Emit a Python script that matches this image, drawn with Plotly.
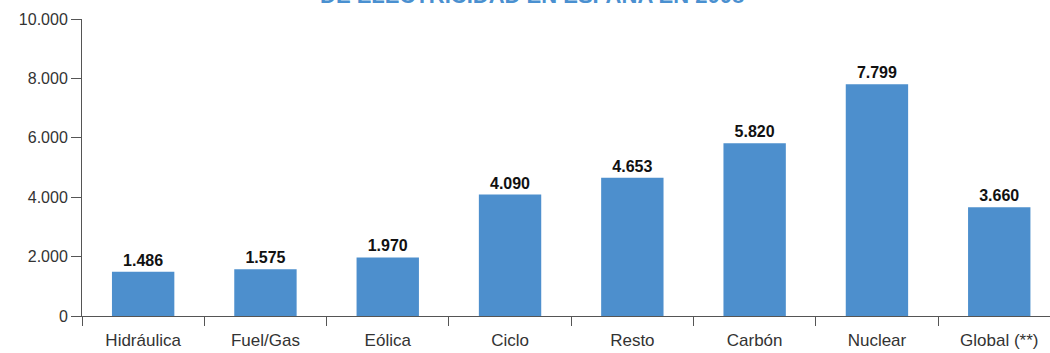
import plotly.graph_objects as go

categories = ["Hidráulica", "Fuel/Gas", "Eólica", "Ciclo", "Resto", "Carbón", "Nuclear", "Global (**)"]
values = [1486, 1575, 1970, 4090, 4653, 5820, 7799, 3660]
value_labels = ["1.486", "1.575", "1.970", "4.090", "4.653", "5.820", "7.799", "3.660"]
y_ticks = [0, 2000, 4000, 6000, 8000, 10000]
y_tick_labels = ["0", "2.000", "4.000", "6.000", "8.000", "10.000"]
title_text = "DE ELECTRICIDAD EN ESPAÑA EN 2008"

fig = go.Figure()
fig.add_trace(go.Bar(
    x=categories, y=values,
    marker=dict(color="#4d8fcd", line=dict(width=0)),
    width=0.51,
    text=value_labels, textposition="outside",
    textfont=dict(family="Liberation Sans, Arial, sans-serif", size=16, color="#111111"),
    texttemplate="<b>%{text}</b>",
    cliponaxis=False,
))

fig.add_annotation(
    text="<b>" + title_text + "</b>", xref="paper", yref="paper",
    x=0.465, y=1.03, xanchor="center", yanchor="bottom", showarrow=False,
    font=dict(family="Liberation Sans, Arial, sans-serif", size=22, color="#4a90d0"),
)

fig.update_layout(
    width=1050, height=353,
    margin=dict(l=82, r=0, t=19, b=37),
    paper_bgcolor="white", plot_bgcolor="white",
    showlegend=False,
    separators=",.",
    font=dict(family="Liberation Sans, Arial, sans-serif", size=16, color="#333333"),
    xaxis=dict(
        type="category", range=[-0.5, 7.415],
        tickson="boundaries", ticks="outside", ticklen=9, tickcolor="#555555", tickwidth=1,
        showline=True, linecolor="#555555", linewidth=1,
        showgrid=False, tickfont=dict(size=17, color="#333333"),
        ticklabelstandoff=9,
    ),
    yaxis=dict(
        range=[0, 10000], tickvals=y_ticks, ticktext=y_tick_labels,
        ticks="outside", ticklen=10, tickcolor="#555555",
        showline=True, linecolor="#555555", linewidth=1,
        showgrid=False, zeroline=False, tickfont=dict(size=16, color="#333333"),
    ),
)

fig.write_html("out.html")
